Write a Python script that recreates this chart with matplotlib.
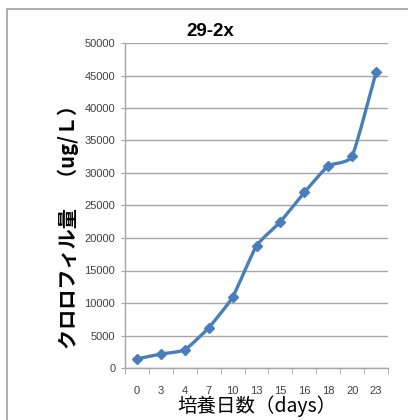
import matplotlib
matplotlib.use("Agg")
import matplotlib.pyplot as plt
from matplotlib.path import Path
from matplotlib.patches import PathPatch, Rectangle
import numpy as np

plt.rcParams['font.family'] = ['Noto Sans CJK JP', 'DejaVu Sans']

days = ["0", "3", "4", "7", "10", "13", "15", "16", "18", "20", "23"]
chlorophyll = [1400, 2150, 2800, 6200, 10900, 18800, 22500, 27000, 31100, 32600, 45500]
yticks = [0, 5000, 10000, 15000, 20000, 25000, 30000, 35000, 40000, 45000, 50000]

line_color = "#4a7ebb"
grid_color = "#a6a6a6"
text_color = "#404040"

fig = plt.figure(figsize=(4.08, 4.20), dpi=100)
fig.patch.set_facecolor("white")

# outer chart frame
fig.patches.append(Rectangle((7 / 408, -0.05), 1.2, (420 - 9) / 420 + 0.05,
                             transform=fig.transFigure, fill=False,
                             edgecolor="#a0a0a0", linewidth=1.2))

ax = fig.add_axes([125 / 408, 1 - 368 / 420, (388 - 125) / 408, (368 - 43) / 420])

x = np.arange(len(days))
y = np.array(chlorophyll, dtype=float)

# gently smoothed line: cubic Bezier segments with low tension
tension = 1.0 / 12.0
verts = [(x[0], y[0])]
codes = [Path.MOVETO]
n = len(x)
for i in range(n - 1):
    p0 = np.array([x[max(i - 1, 0)], y[max(i - 1, 0)]])
    p1 = np.array([x[i], y[i]])
    p2 = np.array([x[i + 1], y[i + 1]])
    p3 = np.array([x[min(i + 2, n - 1)], y[min(i + 2, n - 1)]])
    c1 = p1 + (p2 - p0) * tension
    c2 = p2 - (p3 - p1) * tension
    verts += [tuple(c1), tuple(c2), tuple(p2)]
    codes += [Path.CURVE4, Path.CURVE4, Path.CURVE4]
ax.add_patch(PathPatch(Path(verts, codes), facecolor="none",
                       edgecolor=line_color, linewidth=2.4, zorder=3,
                       capstyle="round", joinstyle="round"))
ax.plot(x, y, linestyle="none", marker="D", markersize=5.5,
        color=line_color, zorder=4)

ax.set_xlim(-0.5, n - 0.5)
ax.set_ylim(0, 50000)
ax.set_yticks(yticks)
ax.set_yticklabels([str(v) for v in yticks], fontsize=8, color=text_color,
                   family=['Liberation Sans', 'DejaVu Sans'])
ax.set_xticks(x)
ax.set_xticklabels(days, fontsize=8, color=text_color,
                   family=['Liberation Sans', 'DejaVu Sans'])
ax.set_xticks(np.arange(-0.5, n, 1.0), minor=True)
ax.tick_params(axis="x", which="major", length=0, pad=13)
ax.tick_params(axis="x", which="minor", length=4, color=grid_color, direction="out")
ax.tick_params(axis="y", length=3, color=grid_color, direction="out", pad=4)

ax.grid(axis="y", color=grid_color, linewidth=1.0)
ax.set_axisbelow(True)
for side in ["top", "right"]:
    ax.spines[side].set_visible(False)
for side in ["left", "bottom"]:
    ax.spines[side].set_color(grid_color)
    ax.spines[side].set_linewidth(1.0)

fig.text(210 / 408, 1 - 31 / 420, "29-2x", ha="center", va="center",
         fontsize=13.5, fontweight="bold", color="black",
         family=['Liberation Sans', 'DejaVu Sans'])
fig.text(68 / 408, 1 - 222 / 420, "クロロフィル量　（ug/Ｌ）", rotation=90,
         ha="center", va="center", fontsize=14.5, fontweight="bold", color="black")
fig.text(257 / 408, 1 - 406 / 420, "培養日数（days）", ha="center", va="center",
         fontsize=14, color="black")

fig.savefig("out.png", dpi=100, facecolor="white")
